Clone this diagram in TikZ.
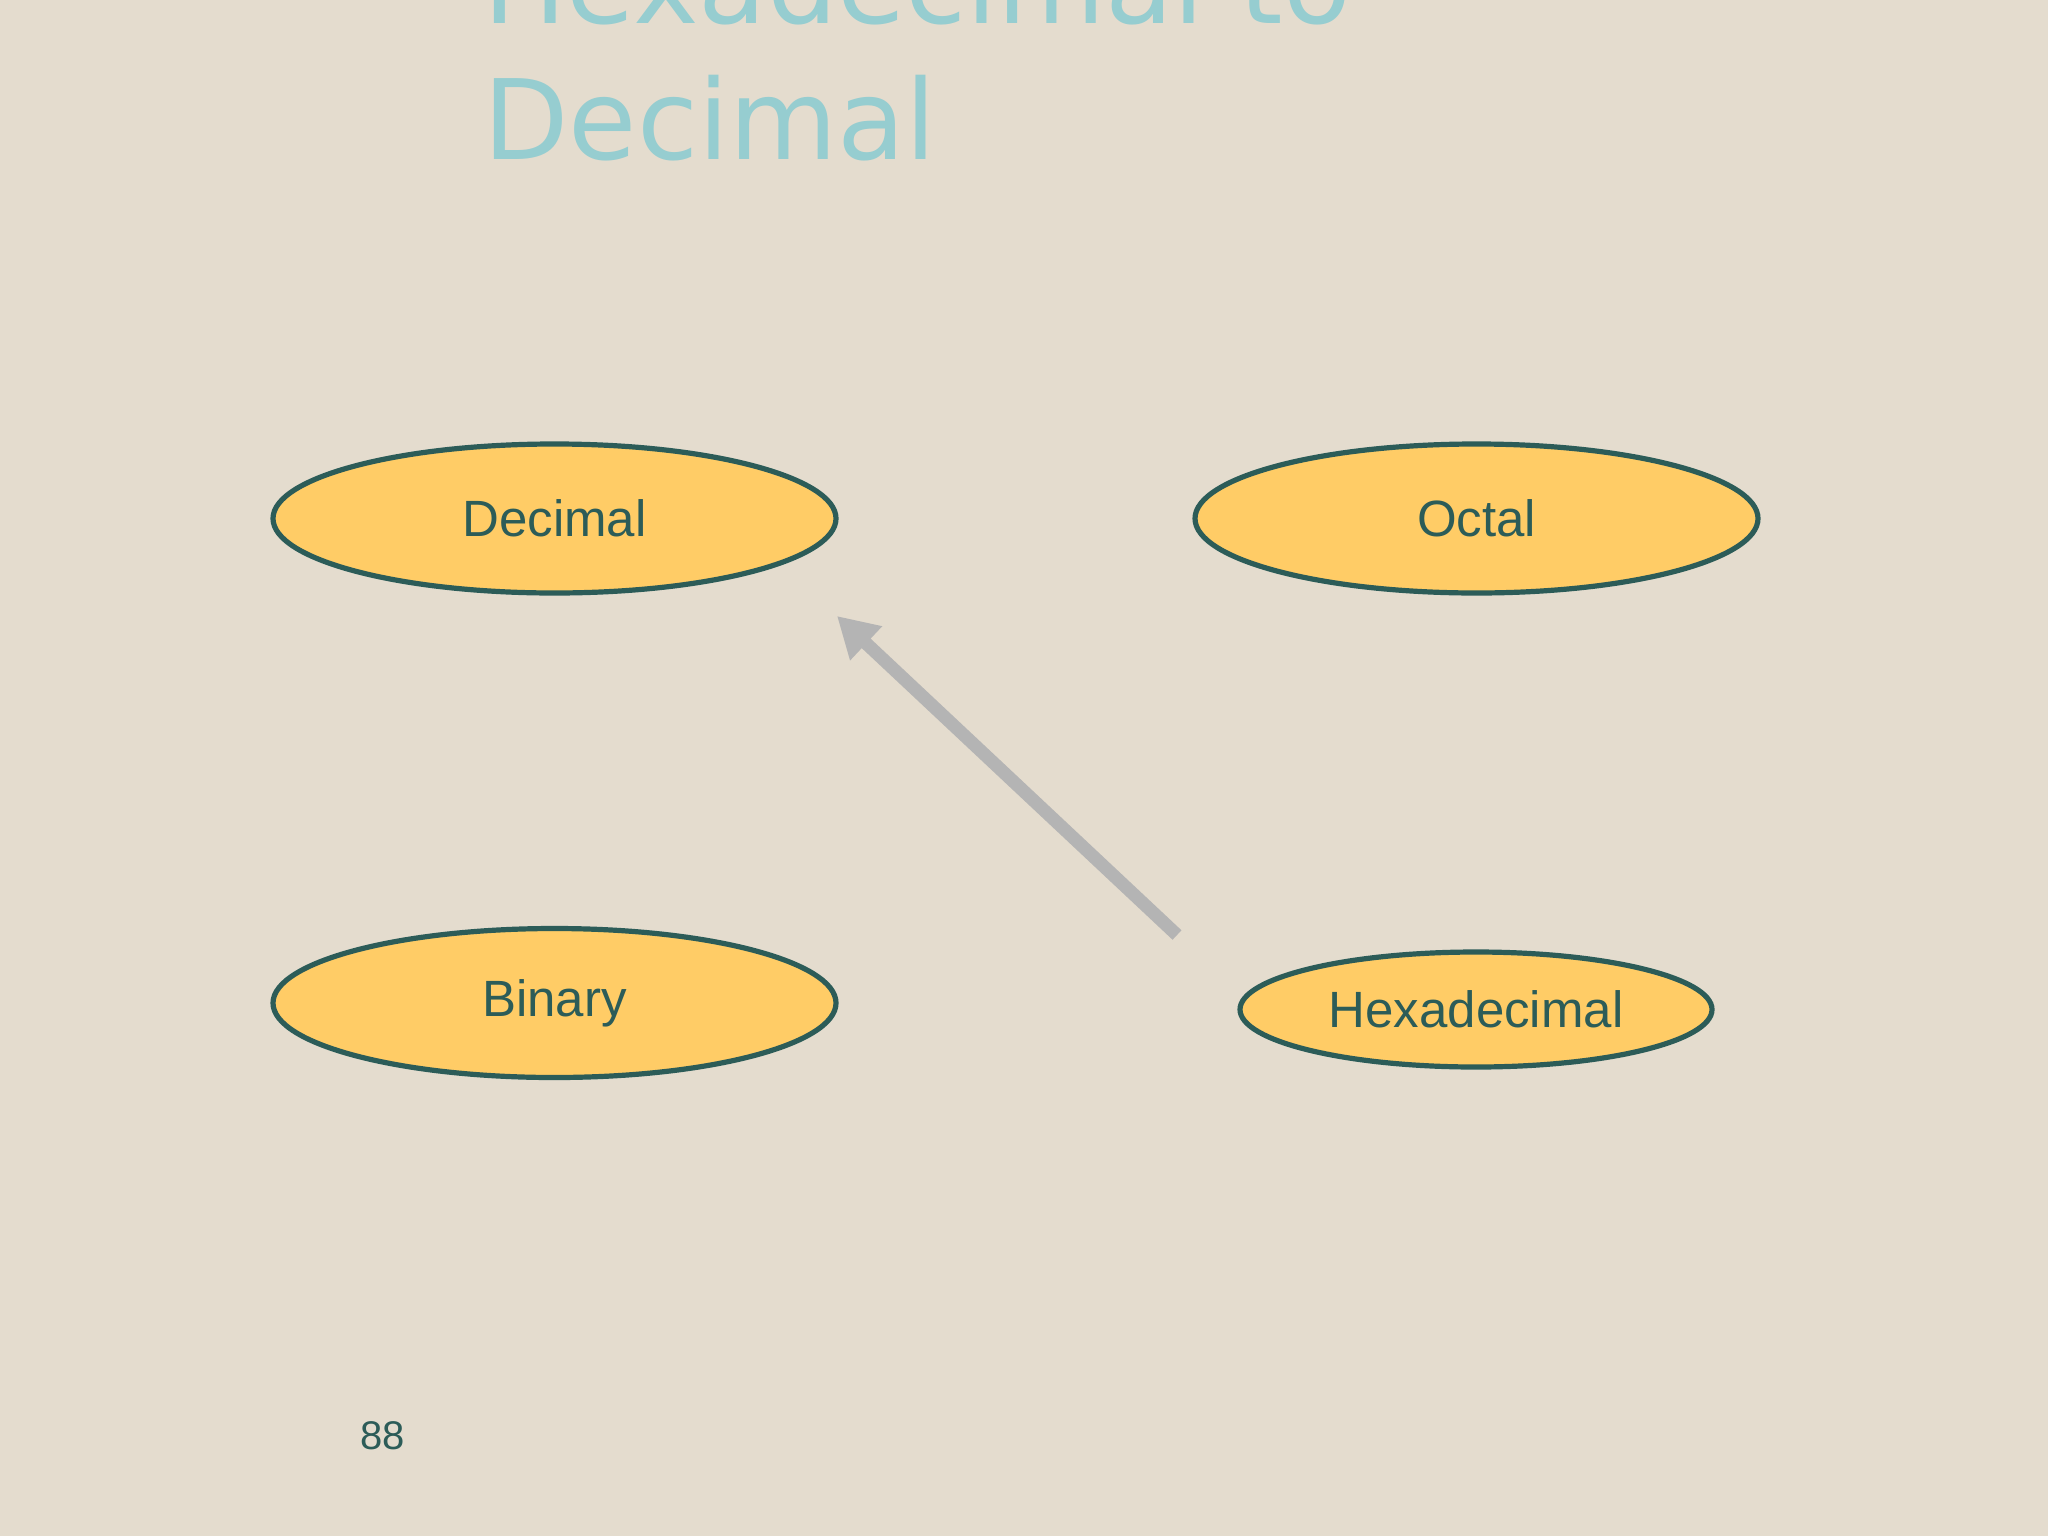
\documentclass[tikz,border=0pt]{standalone}
\usepackage{fontspec}
\setmainfont{Liberation Sans}
\newfontfamily\titlefont{DejaVu Sans}
\usetikzlibrary{shapes.geometric,arrows.meta}
\definecolor{bgbeige}{RGB}{228,220,206}
\definecolor{titleteal}{RGB}{150,205,208}
\definecolor{darkteal}{RGB}{44,92,88}
\definecolor{ovalfill}{RGB}{255,204,102}
\definecolor{arrowgray}{RGB}{180,180,180}
\tikzset{
  oval/.style={ellipse, draw=darkteal, line width=2.6pt, fill=ovalfill, inner sep=0pt,
    text=darkteal, font=\fontsize{25.5pt}{30pt}\selectfont},
  bigoval/.style={oval, minimum width=281.5pt, minimum height=74.5pt},
  smalloval/.style={oval, minimum width=236pt, minimum height=57.5pt},
  titletext/.style={anchor=base west, inner sep=0pt, text=titleteal,
    font=\titlefont\fontsize{55.5pt}{66pt}\selectfont},
  conv/.style={draw=arrowgray, line width=6.5pt,
    -{Triangle[width=22pt,length=20pt]}},
  pagenum/.style={inner sep=0pt, text=darkteal, font=\fontsize{20pt}{24pt}\selectfont}
}
\begin{document}
\begin{tikzpicture}[x=0.5pt,y=-0.5pt]
\useasboundingbox (0,0) rectangle (2048,1536);
\clip (0,0) rectangle (2048,1536);
\fill[bgbeige] (0,0) rectangle (2048,1536);
% title
\node[titletext] (t1) at (483,24) {Hexadecimal to};
\node[titletext] (t2) at (483,159) {Decimal};
% ovals
\node[bigoval] (dec) at (554.5,518.5) {Decimal};
\node[bigoval] (oct) at (1476.5,518.5) {Octal};
\node[bigoval] (bin) at (554.5,1003) {Binary};
\node[smalloval] (hex) at (1476,1009.5) {Hexadecimal};
% arrow
\coordinate (astart) at (1177,935);
\coordinate (aend) at (837,616);
\draw[conv] (astart) -- (aend);
% page number
\node[pagenum] (pg) at (383,1436) {88};
\end{tikzpicture}
\end{document}
